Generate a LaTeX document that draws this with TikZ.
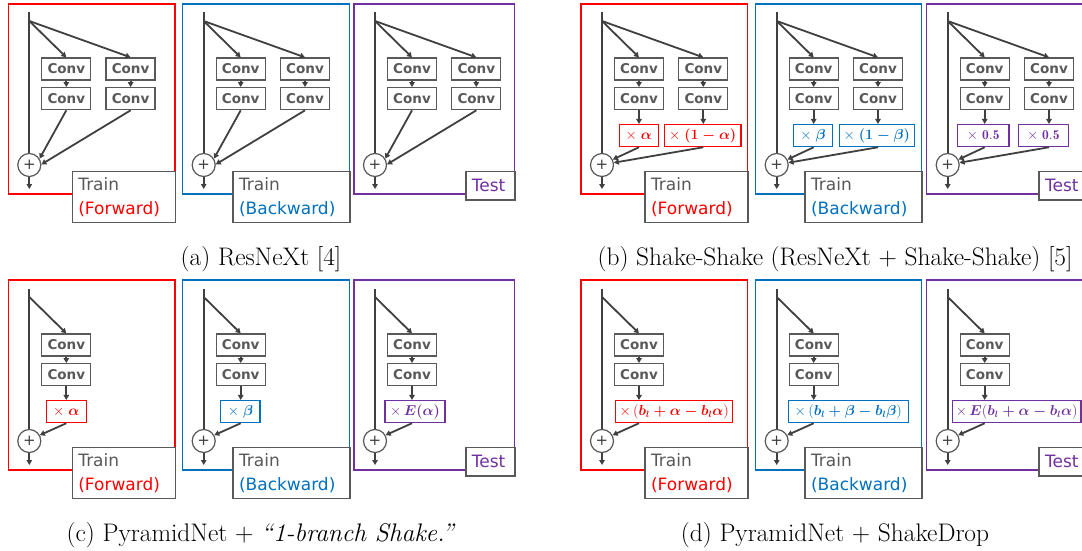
\documentclass[tikz,border=0pt]{standalone}
\usepackage{amsmath}
\usepackage{fontspec}
\usetikzlibrary{arrows.meta,calc}
\newfontfamily\dvfont{DejaVu Sans}
\definecolor{fwdred}{RGB}{255,0,0}
\definecolor{bwdblue}{RGB}{0,112,192}
\definecolor{testpurple}{RGB}{112,48,160}
\definecolor{boxgray}{RGB}{89,89,89}
\definecolor{wiregray}{RGB}{64,64,64}

\tikzset{
  frm/.style={line width=1.4pt},
  conv/.style={draw=boxgray, line width=1.3pt, fill=white, minimum width=49pt,
    minimum height=22pt, inner sep=0pt, text=boxgray,
    font=\dvfont\bfseries\fontsize{13.5}{15}\selectfont},
  mult/.style={draw=#1, line width=1.3pt, fill=white, minimum height=22pt,
    inner sep=0pt, text=#1, font=\fontsize{13.5}{15}\selectfont},
  addop/.style={circle, draw=boxgray, line width=1.2pt, minimum size=23pt,
    inner sep=0pt, fill=white, text=wiregray, font=\dvfont\fontsize{15}{15}\selectfont},
  wire/.style={draw=wiregray, line width=1.8pt},
  flow/.style={wire, -{Triangle[length=5pt,width=5.5pt]}},
  tag/.style={draw=boxgray, line width=1.3pt, fill=white, align=left,
    inner xsep=6pt, inner ysep=0pt, text=boxgray,
    font=\dvfont\fontsize{17}{24}\selectfont, anchor=north east},
  twoline/.style={minimum height=51pt},
  oneline/.style={minimum height=28.3pt},
  subcap/.style={anchor=base, inner sep=0pt, text=black, font=\fontsize{25.4}{30}\selectfont},
}

% frame, shortcut path, adder and output of one residual block
% #1 prefix, #2 frame width, #3 frame colour, #4 tag options, #5 tag text
\newcommand\blockskel[5]{%
  \draw[frm, draw=#3] (0,0) rectangle (#2,190);
  \node[addop] (#1add) at (21,161) {+};
  \coordinate (#1in) at (21,8.5);
  \coordinate (#1fork) at (21,17);
  \coordinate (#1out) at (21,185);
  \draw[wire] (#1in) -- (#1add);
  \draw[flow] (#1add) -- (#1out);
  \node[tag, #4] (#1tag) at (#2+1,167) {#5};
}

% two stacked convolutions fed from the fork point
% #1 prefix, #2 centre x, #3 fork coordinate
\newcommand\convpair[3]{%
  \node[conv] (#1c1) at (#2,65) {Conv};
  \node[conv] (#1c2) at (#2,94.7) {Conv};
  \draw[flow] (#3) -- (#1c1.north);
  \draw[flow] (#1c1) -- (#1c2);
}

% scaling box below a convolution pair
% #1 prefix, #2 colour, #3 centre x, #4 width, #5 text
\newcommand\multbox[5]{%
  \node[mult=#2, minimum width=#4] (#1m) at (#3,131.6) {#5};
  \draw[flow] (#1c2) -- (#1c2.south |- #1m.north);
}

\newcommand\trainfwd{Train\\\textcolor{fwdred}{(Forward)}}
\newcommand\trainbwd{Train\\\textcolor{bwdblue}{(Backward)}}
\newcommand\testtag{\textcolor{testpurple}{Test}}

\begin{document}
\begin{tikzpicture}[x=1pt, y=-1pt]
\useasboundingbox (0,0) rectangle (1082,551);
\clip (0,0) rectangle (1082,551);
\fill[white] (0,0) rectangle (1082,551);

% ---------------- (a) ResNeXt ----------------
\begin{scope}[shift={(8.3,4)}]
  \blockskel{aa}{166.7}{fwdred}{twoline, text width=91pt}{\trainfwd}
  \convpair{aaL}{58}{aafork}
  \convpair{aaR}{122.3}{aafork}
  \draw[flow] (aaLc2.south) -- (aaadd.32);
  \draw[flow] (aaRc2.south) -- (aaadd.3);
\end{scope}
\begin{scope}[shift={(182.7,4)}]
  \blockskel{ab}{167}{bwdblue}{twoline, text width=105pt}{\trainbwd}
  \convpair{abL}{58}{abfork}
  \convpair{abR}{122.3}{abfork}
  \draw[flow] (abLc2.south) -- (abadd.32);
  \draw[flow] (abRc2.south) -- (abadd.3);
\end{scope}
\begin{scope}[shift={(354,4)}]
  \blockskel{ac}{160.5}{testpurple}{oneline, text width=37pt}{\testtag}
  \convpair{acL}{58}{acfork}
  \convpair{acR}{122.3}{acfork}
  \draw[flow] (acLc2.south) -- (acadd.32);
  \draw[flow] (acRc2.south) -- (acadd.3);
\end{scope}
\node[subcap] (capa) at (261,265) {(a) ResNeXt [4]};

% ---------------- (b) Shake-Shake ----------------
\begin{scope}[shift={(581,4)}]
  \blockskel{ba}{166.7}{fwdred}{twoline, text width=91pt}{\trainfwd}
  \convpair{baL}{58}{bafork}
  \convpair{baR}{122.3}{bafork}
  \multbox{baL}{fwdred}{57.8}{39pt}{$\times\;\boldsymbol{\alpha}$}
  \multbox{baR}{fwdred}{121.7}{76.7pt}{$\times\;\boldsymbol{(1-\alpha)}$}
  \draw[flow] (baLc2.south |- baLm.south) -- (baadd.27);
  \draw[flow] (baRc2.south |- baRm.south) -- (baadd.11);
\end{scope}
\begin{scope}[shift={(755.7,4)}]
  \blockskel{bb}{166}{bwdblue}{twoline, text width=105pt}{\trainbwd}
  \convpair{bbL}{58}{bbfork}
  \convpair{bbR}{122.3}{bbfork}
  \multbox{bbL}{bwdblue}{57.3}{39.4pt}{$\times\;\boldsymbol{\beta}$}
  \multbox{bbR}{bwdblue}{121.1}{75pt}{$\times\;\boldsymbol{(1-\beta)}$}
  \draw[flow] (bbLc2.south |- bbLm.south) -- (bbadd.27);
  \draw[flow] (bbRc2.south |- bbRm.south) -- (bbadd.11);
\end{scope}
\begin{scope}[shift={(926.7,4)}]
  \blockskel{bc}{161}{testpurple}{oneline, text width=37pt}{\testtag}
  \convpair{bcL}{58}{bcfork}
  \convpair{bcR}{122.3}{bcfork}
  \multbox{bcL}{testpurple}{56.5}{51.7pt}{$\times\;\mathbf{0.5}$}
  \multbox{bcR}{testpurple}{116.6}{50pt}{$\times\;\mathbf{0.5}$}
  \draw[flow] (bcLc2.south |- bcLm.south) -- (bcadd.27);
  \draw[flow] (bcRc2.south |- bcRm.south) -- (bcadd.11);
\end{scope}
\node[subcap] (capb) at (835,265) {(b) Shake-Shake (ResNeXt + Shake-Shake) [5]};

% ---------------- (c) PyramidNet + 1-branch Shake ----------------
\begin{scope}[shift={(8.3,280)}]
  \blockskel{ca}{166.7}{fwdred}{twoline, text width=91pt}{\trainfwd}
  \convpair{caS}{58}{cafork}
  \multbox{caS}{fwdred}{58}{40pt}{$\times\;\boldsymbol{\alpha}$}
  \draw[flow] (caSc2.south |- caSm.south) -- (caadd.29);
\end{scope}
\begin{scope}[shift={(182.7,280)}]
  \blockskel{cb}{167}{bwdblue}{twoline, text width=105pt}{\trainbwd}
  \convpair{cbS}{58}{cbfork}
  \multbox{cbS}{bwdblue}{57.7}{39.3pt}{$\times\;\boldsymbol{\beta}$}
  \draw[flow] (cbSc2.south |- cbSm.south) -- (cbadd.29);
\end{scope}
\begin{scope}[shift={(354,280)}]
  \blockskel{cc}{160.5}{testpurple}{oneline, text width=37pt}{\testtag}
  \convpair{ccS}{58}{ccfork}
  \multbox{ccS}{testpurple}{61}{60pt}{$\times\,\boldsymbol{E(\alpha)}$}
  \draw[flow] (ccSc2.south |- ccSm.south) -- (ccadd.29);
\end{scope}
\node[subcap] (capc) at (261,541) {(c) PyramidNet + \textit{``1-branch Shake.''}};

% ---------------- (d) PyramidNet + ShakeDrop ----------------
\begin{scope}[shift={(581,280)}]
  \blockskel{da}{166.7}{fwdred}{twoline, text width=91pt}{\trainfwd}
  \convpair{daS}{58}{dafork}
  \multbox{daS}{fwdred}{93.2}{117pt}{$\times\,(\boldsymbol{b_l+\alpha-b_l\alpha})$}
  \draw[flow] (daSc2.south |- daSm.south) -- (daadd.29);
\end{scope}
\begin{scope}[shift={(755.7,280)}]
  \blockskel{db}{166}{bwdblue}{twoline, text width=105pt}{\trainbwd}
  \convpair{dbS}{58}{dbfork}
  \multbox{dbS}{bwdblue}{92.6}{120pt}{$\times\,(\boldsymbol{b_l+\beta-b_l\beta})$}
  \draw[flow] (dbSc2.south |- dbSm.south) -- (dbadd.29);
\end{scope}
\begin{scope}[shift={(926.7,280)}]
  \blockskel{dc}{161}{testpurple}{oneline, text width=37pt}{\testtag}
  \convpair{dcS}{58}{dcfork}
  \multbox{dcS}{testpurple}{90}{128.7pt}{$\times\,\boldsymbol{E}(\boldsymbol{b_l+\alpha-b_l\alpha})$}
  \draw[flow] (dcSc2.south |- dcSm.south) -- (dcadd.29);
\end{scope}
\node[subcap] (capd) at (835,541) {(d) PyramidNet + ShakeDrop};
\end{tikzpicture}
\end{document}
